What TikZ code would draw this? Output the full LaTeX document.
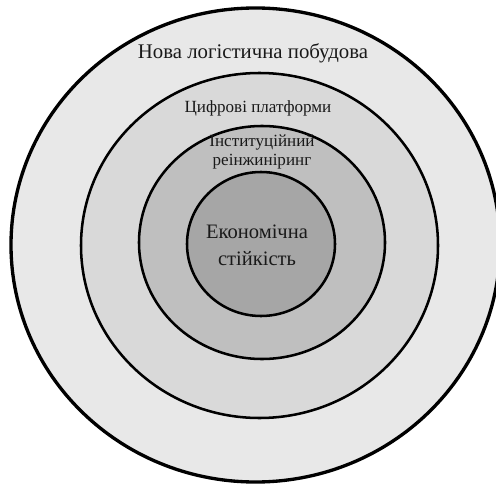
\documentclass[tikz,border=0pt]{standalone}
\usepackage{fontspec}
\setmainfont{Liberation Serif}

\definecolor{ringA}{RGB}{232,232,232}
\definecolor{ringB}{RGB}{217,217,217}
\definecolor{ringC}{RGB}{191,191,191}
\definecolor{ringD}{RGB}{166,166,166}
\definecolor{txt}{RGB}{25,25,25}

\tikzset{
  ring/.style={draw=black, line width=1.9pt},
  ringlabel/.style={text=txt, align=center, inner sep=0pt}
}

\begin{document}
\begin{tikzpicture}[x=0.75pt, y=-0.75pt]
        \useasboundingbox (0,0) rectangle (496,485);
        \clip (0,0) rectangle (496,485);

        % Rings, outside in
        \draw[ring, fill=ringA, line width=2.5pt] (255.5,245) ellipse [x radius=244.5, y radius=237];
        \draw[ring, fill=ringB] (259.5,245.5) ellipse [x radius=178.5, y radius=172.5];
        \draw[ring, fill=ringC] (262,242.5) ellipse [x radius=123, y radius=116.5];
        \draw[ring, fill=ringD] (261,244) ellipse [x radius=74, y radius=72];

        % Labels
        \node[ringlabel, font=\fontsize{15.6}{18}\selectfont] (logistics) at (253,53) {Нова логістична побудова};
        \node[ringlabel, font=\fontsize{12.8}{15}\selectfont] (platforms) at (258,108) {Цифрові платформи};
        \node[ringlabel, font=\fontsize{12.8}{14.3}\selectfont] (reengineering) at (262,152) {Інституційний\\реінжиніринг};
        \node[ringlabel, font=\fontsize{15.4}{20}\selectfont] (stability) at (257,245) {Економічна\\стійкість};

    \end{tikzpicture}
\end{document}
